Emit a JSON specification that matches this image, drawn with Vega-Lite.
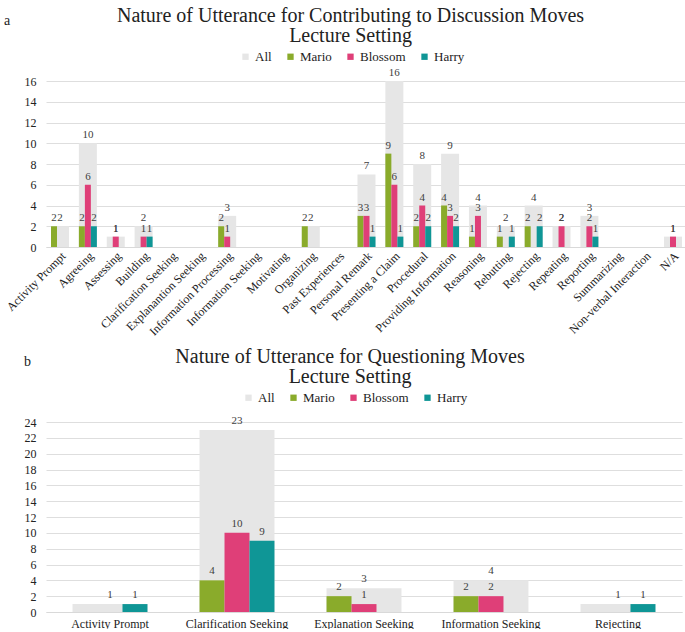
{
  "$schema": "https://vega.github.io/schema/vega-lite/v6.json",
  "padding": {"left": 3, "top": 6, "right": 0, "bottom": 0},
  "spacing": 9,
  "datasets": {
    "a": [
      {"cat": "Activity Prompt", "s": "All", "v": 2},
      {"cat": "Agreeing", "s": "All", "v": 10},
      {"cat": "Assessing", "s": "All", "v": 1},
      {"cat": "Building", "s": "All", "v": 2},
      {"cat": "Clarification Seeking", "s": "All", "v": 0},
      {"cat": "Explanantion Seeking", "s": "All", "v": 0},
      {"cat": "Information Processing", "s": "All", "v": 3},
      {"cat": "Information Seeking", "s": "All", "v": 0},
      {"cat": "Motivating", "s": "All", "v": 0},
      {"cat": "Organizing", "s": "All", "v": 2},
      {"cat": "Past Experiences", "s": "All", "v": 0},
      {"cat": "Personal Remark", "s": "All", "v": 7},
      {"cat": "Presenting a Claim", "s": "All", "v": 16},
      {"cat": "Procedural", "s": "All", "v": 8},
      {"cat": "Providing Information", "s": "All", "v": 9},
      {"cat": "Reasoning", "s": "All", "v": 4},
      {"cat": "Rebutting", "s": "All", "v": 2},
      {"cat": "Rejecting", "s": "All", "v": 4},
      {"cat": "Repeating", "s": "All", "v": 2},
      {"cat": "Reporting", "s": "All", "v": 3},
      {"cat": "Summarizing", "s": "All", "v": 0},
      {"cat": "Non-verbal Interaction", "s": "All", "v": 0},
      {"cat": "N/A", "s": "All", "v": 1},
      {"cat": "Activity Prompt", "s": "Mario", "v": 2},
      {"cat": "Agreeing", "s": "Mario", "v": 2},
      {"cat": "Agreeing", "s": "Blossom", "v": 6},
      {"cat": "Agreeing", "s": "Harry", "v": 2},
      {"cat": "Assessing", "s": "Blossom", "v": 1},
      {"cat": "Building", "s": "Blossom", "v": 1},
      {"cat": "Building", "s": "Harry", "v": 1},
      {"cat": "Information Processing", "s": "Mario", "v": 2},
      {"cat": "Information Processing", "s": "Blossom", "v": 1},
      {"cat": "Organizing", "s": "Mario", "v": 2},
      {"cat": "Personal Remark", "s": "Mario", "v": 3},
      {"cat": "Personal Remark", "s": "Blossom", "v": 3},
      {"cat": "Personal Remark", "s": "Harry", "v": 1},
      {"cat": "Presenting a Claim", "s": "Mario", "v": 9},
      {"cat": "Presenting a Claim", "s": "Blossom", "v": 6},
      {"cat": "Presenting a Claim", "s": "Harry", "v": 1},
      {"cat": "Procedural", "s": "Mario", "v": 2},
      {"cat": "Procedural", "s": "Blossom", "v": 4},
      {"cat": "Procedural", "s": "Harry", "v": 2},
      {"cat": "Providing Information", "s": "Mario", "v": 4},
      {"cat": "Providing Information", "s": "Blossom", "v": 3},
      {"cat": "Providing Information", "s": "Harry", "v": 2},
      {"cat": "Reasoning", "s": "Mario", "v": 1},
      {"cat": "Reasoning", "s": "Blossom", "v": 3},
      {"cat": "Rebutting", "s": "Mario", "v": 1},
      {"cat": "Rebutting", "s": "Harry", "v": 1},
      {"cat": "Rejecting", "s": "Mario", "v": 2},
      {"cat": "Rejecting", "s": "Harry", "v": 2},
      {"cat": "Repeating", "s": "Blossom", "v": 2},
      {"cat": "Reporting", "s": "Blossom", "v": 2},
      {"cat": "Reporting", "s": "Harry", "v": 1},
      {"cat": "N/A", "s": "Blossom", "v": 1}
    ],
    "b": [
      {"cat": "Activity Prompt", "s": "All", "v": 1},
      {"cat": "Clarification Seeking", "s": "All", "v": 23},
      {"cat": "Explanation Seeking", "s": "All", "v": 3},
      {"cat": "Information Seeking", "s": "All", "v": 4},
      {"cat": "Rejecting", "s": "All", "v": 1},
      {"cat": "Activity Prompt", "s": "Harry", "v": 1},
      {"cat": "Clarification Seeking", "s": "Mario", "v": 4},
      {"cat": "Clarification Seeking", "s": "Blossom", "v": 10},
      {"cat": "Clarification Seeking", "s": "Harry", "v": 9},
      {"cat": "Explanation Seeking", "s": "Mario", "v": 2},
      {"cat": "Explanation Seeking", "s": "Blossom", "v": 1},
      {"cat": "Information Seeking", "s": "Mario", "v": 2},
      {"cat": "Information Seeking", "s": "Blossom", "v": 2},
      {"cat": "Rejecting", "s": "Harry", "v": 1}
    ]
  },
  "config": {
    "font": "Liberation Serif",
    "view": {"stroke": null},
    "title": {"font": "Liberation Serif", "fontWeight": "normal", "color": "#222222", "fontSize": 20, "lineHeight": 20, "anchor": "middle", "offset": 4},
    "axis": {"labelFont": "Liberation Serif", "labelColor": "#222222", "gridColor": "#dedede", "domainColor": "#d9d9d9", "ticks": false, "title": null},
    "axisY": {"domain": false, "labelFontSize": 12, "labelPadding": 10},
    "axisX": {"grid": false, "labelFontSize": 12, "labelPadding": 3},
    "legend": {"labelFont": "Liberation Serif", "labelFontSize": 13, "labelColor": "#222222", "symbolType": "square", "symbolSize": 40, "symbolStrokeWidth": 0, "columnPadding": 12, "labelOffset": 3, "direction": "horizontal", "title": null},
    "text": {"font": "Liberation Serif", "fontSize": 11, "color": "#404040"}
  },
  "resolve": {"scale": {"color": "independent", "x": "independent", "y": "independent", "xOffset": "independent"}, "legend": {"color": "independent"}},
  "vconcat": [
    {
      "title": {"text": "a", "anchor": "start", "fontSize": 14, "offset": -22, "font": "Liberation Serif"},
      "resolve": {"legend": {"color": "independent"}},
      "vconcat": [
        {
          "title": {"text": ["Nature of Utterance for Contributing to Discussion Moves", "Lecture Setting"], "font": "Liberation Serif", "dx": -16},
          "width": 641,
          "height": 166,
          "data": {"name": "a"},
          "encoding": {
            "x": {"field": "cat", "type": "nominal", "sort": null, "scale": {"paddingInner": 0.354, "paddingOuter": 0.18}, "axis": {"labelAngle": -45, "labelFont": "Liberation Serif", "labelFontSize": 12}},
            "y": {"field": "v", "type": "quantitative", "scale": {"domain": [0, 16]}, "axis": {"values": [0, 2, 4, 6, 8, 10, 12, 14, 16], "labelFont": "Liberation Serif", "labelFontSize": 12}},
            "color": {"field": "s", "type": "nominal", "scale": {"domain": ["All", "Mario", "Blossom", "Harry"], "range": ["#e6e6e6", "#8aab2b", "#df3f78", "#0f9696"]}, "legend": {"orient": "none", "direction": "horizontal", "legendX": 193, "legendY": -31, "labelFont": "Liberation Serif", "labelFontSize": 13}}
          },
          "layer": [
            {"transform": [{"filter": "datum.s === 'All'"}], "mark": {"type": "bar"}},
            {"transform": [{"filter": "datum.s !== 'All'"}], "mark": {"type": "bar"},
             "encoding": {"xOffset": {"field": "s", "type": "nominal", "sort": ["Mario", "Blossom", "Harry"], "scale": {"domain": ["Mario", "Blossom", "Harry"]}}}},
            {"transform": [{"filter": "datum.s === 'All' && datum.v > 0"}], "mark": {"type": "text", "baseline": "bottom", "dy": -3, "font": "Liberation Serif", "fontSize": 11},
             "encoding": {"text": {"field": "v", "type": "quantitative"}, "color": {"value": "#404040"}}},
            {"transform": [{"filter": "datum.s !== 'All'"}], "mark": {"type": "text", "baseline": "bottom", "dy": -3, "font": "Liberation Serif", "fontSize": 11},
             "encoding": {"text": {"field": "v", "type": "quantitative"}, "color": {"value": "#404040"}, "xOffset": {"field": "s", "type": "nominal", "sort": ["Mario", "Blossom", "Harry"], "scale": {"domain": ["Mario", "Blossom", "Harry"]}}}}
          ]
        }
      ]
    },
    {
      "title": {"text": "b", "anchor": "start", "fontSize": 14, "offset": -22, "font": "Liberation Serif"},
      "resolve": {"legend": {"color": "independent"}},
      "vconcat": [
        {
          "title": {"text": ["Nature of Utterance for Questioning Moves", "Lecture Setting"], "font": "Liberation Serif", "dx": -14},
          "width": 636,
          "height": 190,
          "data": {"name": "b"},
          "encoding": {
            "x": {"field": "cat", "type": "nominal", "sort": null, "scale": {"paddingInner": 0.41, "paddingOuter": 0.209}, "axis": {"labelAngle": 0, "labelFont": "Liberation Serif", "labelFontSize": 12, "labelPadding": 6}},
            "y": {"field": "v", "type": "quantitative", "scale": {"domain": [0, 24]}, "axis": {"values": [0, 2, 4, 6, 8, 10, 12, 14, 16, 18, 20, 22, 24], "labelFont": "Liberation Serif", "labelFontSize": 12}},
            "color": {"field": "s", "type": "nominal", "scale": {"domain": ["All", "Mario", "Blossom", "Harry"], "range": ["#e6e6e6", "#8aab2b", "#df3f78", "#0f9696"]}, "legend": {"orient": "none", "direction": "horizontal", "legendX": 196, "legendY": -31, "labelFont": "Liberation Serif", "labelFontSize": 13}}
          },
          "layer": [
            {"transform": [{"filter": "datum.s === 'All'"}], "mark": {"type": "bar"}},
            {"transform": [{"filter": "datum.s !== 'All'"}], "mark": {"type": "bar"},
             "encoding": {"xOffset": {"field": "s", "type": "nominal", "sort": ["Mario", "Blossom", "Harry"], "scale": {"domain": ["Mario", "Blossom", "Harry"]}}}},
            {"transform": [{"filter": "datum.s === 'All' && datum.v > 0"}], "mark": {"type": "text", "baseline": "bottom", "dy": -4, "font": "Liberation Serif", "fontSize": 11},
             "encoding": {"text": {"field": "v", "type": "quantitative"}, "color": {"value": "#404040"}}},
            {"transform": [{"filter": "datum.s !== 'All'"}], "mark": {"type": "text", "baseline": "bottom", "dy": -4, "font": "Liberation Serif", "fontSize": 11},
             "encoding": {"text": {"field": "v", "type": "quantitative"}, "color": {"value": "#404040"}, "xOffset": {"field": "s", "type": "nominal", "sort": ["Mario", "Blossom", "Harry"], "scale": {"domain": ["Mario", "Blossom", "Harry"]}}}}
          ]
        }
      ]
    }
  ]
}
